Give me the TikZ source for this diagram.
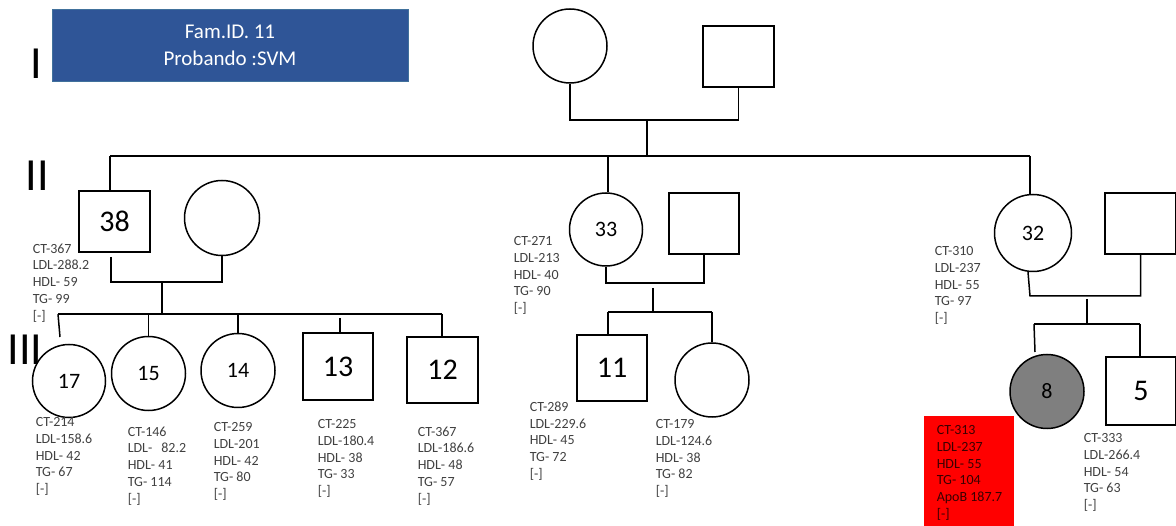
\documentclass[tikz,border=0pt]{standalone}
\usepackage{fontspec}
\setmainfont{Carlito}
\definecolor{famblue}{HTML}{2F5597}
\definecolor{famborder}{HTML}{41719C}
\definecolor{labgray}{HTML}{404040}
\definecolor{affgray}{HTML}{7F7F7F}
\definecolor{redtxt}{HTML}{3A0000}
\begin{document}
\begin{tikzpicture}[x=1pt,y=-1pt,line width=1.5pt,
  female/.style={circle,draw,minimum size=74pt,inner sep=0pt,font=\fontsize{22}{22}\selectfont},
  male/.style={rectangle,draw,minimum width=71pt,minimum height=61pt,inner sep=0pt,font=\fontsize{30}{30}\selectfont},
  lab/.style={anchor=north west,align=left,inner sep=0pt,text=labgray,font=\fontsize{14}{16.7}\selectfont},
  gen/.style={inner sep=0pt,font=\fontsize{46}{46}\selectfont}]
\useasboundingbox (0,0) rectangle (1176,526);

% title box
\node[rectangle,fill=famblue,draw=famborder,line width=0.8pt,minimum width=356pt,minimum height=72pt,
  text=white,align=center,font=\fontsize{21}{27}\selectfont] (title) at (230,45) {Fam.ID. 11\\Probando :SVM};

% generation labels
\node[gen] (gI) at (36,64) {I};
\node[gen] (gII) at (37,176) {II};
\node[gen] (gIII) at (25,350) {III};

% generation I
\node[female] (gIf) at (570,46) {};
\node[male] (gIm) at (738.5,56.5) {};
\coordinate (uI) at (647,120);
\coordinate (dI) at (647,156);
\draw (gIf.south) |- (uI) -| (gIm.south);
\draw (uI) -- (dI);
\coordinate (sIL) at (110,156);
\coordinate (sIR) at (1030,156);
\draw (sIL) -- (sIR);

% generation II left
\node[male] (m38) at (114.5,221.5) {38};
\node[female,minimum size=75pt] (w38) at (222,218) {};
\draw (sIL) -- (sIL |- m38.north);
\coordinate (a38) at (111,257);
\coordinate (u38) at (162,282);
\coordinate (s38) at (162,314);
\draw (a38) |- (u38) -| (w38.south);
\draw (u38) -- (s38);
\node[lab] (t38) at (32,243) {CT-367\\LDL-288.2\\HDL- 59\\TG- 99\\{[-]}};

% generation III left
\coordinate (s3L) at (58,314);
\coordinate (s3R) at (442,314);
\draw (s3L) -- (s3R);
\node[female,minimum size=73pt] (c17) at (69,381) {17};
\node[female] (c15) at (148.5,373.5) {15};
\node[female] (c14) at (238,370.5) {14};
\node[male,minimum width=70pt,minimum height=67pt] (m13) at (338,366.5) {13};
\node[male,minimum width=71pt,minimum height=66pt] (m12) at (442.5,370) {12};
\coordinate (e17) at (60,337);
\draw (s3L) -- (e17);
\draw (c15.north |- s3L) -- (c15.north);
\draw (c14.north |- s3L) -- (c14.north);
\coordinate (b13) at (340,318);
\draw (b13) -- (b13 |- m13.north);
\draw (s3R) -- (s3R |- m12.north);
\node[lab] (t17) at (35,417) {CT-214\\LDL-158.6\\HDL- 42\\TG- 67\\{[-]}};
\node[lab] (t15) at (127,426) {CT-146\\LDL-\hspace{9pt}82.2\\HDL- 41\\TG- 114\\{[-]}};
\node[lab] (t14) at (213,422) {CT-259\\LDL-201\\HDL- 42\\TG- 80\\{[-]}};
\node[lab] (t13) at (317,419) {CT-225\\LDL-180.4\\HDL- 38\\TG- 33\\{[-]}};
\node[lab] (t12) at (417,426) {CT-367\\LDL-186.6\\HDL- 48\\TG- 57\\{[-]}};

% middle family
\node[female,minimum size=73pt] (f33) at (606,229.5) {33};
\node[male,minimum width=70pt] (h33) at (704,223.5) {};
\coordinate (d33) at (608,156);
\draw (d33) -- (d33 |- f33.north);
\coordinate (u33) at (653,283);
\draw (f33.south) |- (u33) -| (h33.south);
\coordinate (a33) at (653,288);
\coordinate (s33) at (653,312);
\draw (a33) -- (s33);
\coordinate (s33L) at (608,312);
\coordinate (s33R) at (712,312);
\draw (s33L) -- (s33R);
\node[male,minimum width=70pt,minimum height=66pt] (m11) at (612,368) {11};
\node[female] (c11s) at (712,380) {};
\draw (s33L) -- (s33L |- m11.north);
\draw (s33R) -- (c11s.north);
\node[lab] (t33) at (513,236) {CT-271\\LDL-213\\HDL- 40\\TG- 90\\{[-]}};
\node[lab] (t11) at (529,401) {CT-289\\LDL-229.6\\HDL- 45\\TG- 72\\{[-]}};
\node[lab] (t11s) at (655,419) {CT-179\\LDL-124.6\\HDL- 38\\TG- 82\\{[-]}};

% right family
\node[female,minimum size=77pt] (f32) at (1033,233) {32};
\node[male] (h32) at (1140.5,223.5) {};
\draw (sIR) -- (sIR |- f32.north);
\coordinate (a32) at (1028,272);
\coordinate (b32) at (1030,296);
\coordinate (u32) at (1087,296);
\draw (a32) -- (b32) -- (u32) -| (h32.south);
\coordinate (v32) at (1087,299);
\coordinate (s32) at (1087,324);
\draw (v32) -- (s32);
\coordinate (s32L) at (1034,324);
\coordinate (s32R) at (1140,324);
\draw (s32L) -- (s32R);
\coordinate (e8) at (1035,352);
\draw (s32L) -- (e8);
\node[female,fill=affgray] (c8) at (1047,391.5) {8};
\node[male,minimum width=70pt,minimum height=68pt] (m5) at (1141,391) {5};
\draw (s32R) -- (s32R |- m5.north);
\node[lab] (t32) at (934,246) {CT-310\\LDL-237\\HDL- 55\\TG- 97\\{[-]}};
\node[lab] (t5) at (1083,433) {CT-333\\LDL-266.4\\HDL- 54\\TG- 63\\{[-]}};

% proband values
\node[rectangle,fill=red,anchor=north west,minimum width=90pt,minimum height=116pt,inner sep=0pt] (rbox) at (923,415) {};
\node[lab,text=redtxt] (t8) at (936,425) {CT-313\\LDL-237\\HDL- 55\\TG- 104\\ApoB 187.7\\{[-]}};
\end{tikzpicture}
\end{document}
